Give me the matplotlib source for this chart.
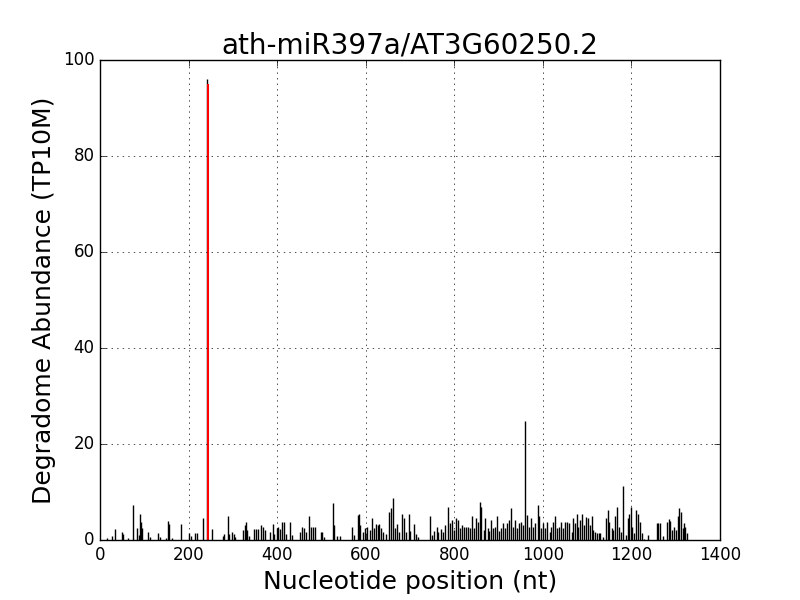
import matplotlib
matplotlib.use("Agg")
import matplotlib.pyplot as plt

# degradome reads per nucleotide position
positions = [15, 26, 34, 50, 52, 64, 74, 84, 87, 90, 92, 94, 109, 113, 132, 135,
             149, 153, 156, 162, 184, 202, 205, 214, 218, 232, 242, 252, 277, 280,
             289, 292, 299, 302, 305, 324, 327, 330, 333, 337, 348, 352, 356,
             363, 367, 372, 384, 390, 394, 400, 403, 406, 412, 416, 420, 430, 434,
             451, 457, 461, 466, 472, 476, 482, 486, 498, 502, 506, 525, 528, 535,
             542, 570, 574, 582, 585, 588, 593, 599, 604, 609, 614, 618, 623, 627,
             630, 634, 639, 645, 652, 656, 662, 665, 670, 675, 683, 686, 691, 697,
             701, 710, 714, 719,
             745, 749, 754, 760, 764, 771, 775, 780, 786, 790, 795, 799, 804, 808,
             813, 817, 822, 826, 831, 835, 840, 844, 849, 853, 857, 861, 866, 870,
             875, 879, 884, 888, 893, 897, 902, 906, 911, 915, 920, 924, 929, 933,
             938, 942, 947, 951, 956, 960, 965, 969, 974, 978, 983, 989, 992, 996,
             1001, 1005, 1010, 1015, 1019, 1024, 1028, 1033, 1037, 1042, 1046, 1051,
             1055, 1060,
             1065, 1069, 1073, 1076, 1080, 1084, 1089, 1093, 1097, 1103, 1106, 1110,
             1114, 1118, 1123, 1127, 1130, 1136, 1143, 1146, 1150, 1155, 1158, 1164,
             1168, 1173, 1176, 1182, 1188, 1193, 1195, 1198, 1201, 1206, 1210, 1215,
             1219, 1224, 1228, 1237, 1257, 1261, 1264, 1271, 1281, 1284, 1287, 1292,
             1296, 1301, 1305, 1308, 1311, 1316, 1319, 1321, 1325]
abundance = [0.5, 0.9, 2.3, 1.7, 1.3, 0.5, 7.3, 2.4, 1.0, 5.5, 3.8, 2.4, 1.6, 0.7, 1.5, 0.7,
             0.5, 4.0, 3.3, 0.5, 3.3, 1.5, 0.9, 1.5, 1.5, 4.5, 96.0, 2.3, 0.9, 1.2,
             4.9, 1.2, 1.6, 1.2, 0.7, 2.1, 3.1, 3.8, 2.1, 0.9, 2.3, 2.3, 2.3,
             3.1, 2.8, 2.1, 1.6, 3.3, 1.2, 2.4, 2.8, 2.2, 3.8, 3.8, 1.2, 3.8, 1.0,
             1.6, 2.8, 2.4, 1.7, 4.9, 2.8, 2.8, 2.8, 1.6, 1.6, 0.7, 7.8, 3.1, 0.9,
             0.9, 2.8, 1.0, 5.2, 5.5, 3.1, 1.6, 2.4, 2.8, 2.1, 4.5, 2.4, 3.3, 3.1,
             3.3, 2.4, 1.6, 1.2, 5.9, 6.6, 8.8, 2.4, 3.3, 1.6, 5.5, 4.5, 1.7, 5.5,
             1.9, 3.3, 1.3, 0.7,
             5.1, 1.0, 1.9, 2.8, 1.7, 2.3, 1.7, 3.1, 6.9, 3.5, 4.2, 2.1, 4.5, 4.2,
             2.4, 3.1, 2.8, 2.8, 2.8, 2.4, 4.9, 2.4, 4.5, 3.8, 8.0, 6.9, 2.1, 4.5,
             2.4, 1.9, 4.2, 2.4, 2.8, 4.9, 1.9, 2.4, 3.5, 2.4, 3.5, 4.2, 6.6, 2.8,
             4.2, 2.4, 3.5, 3.8, 3.1, 24.7, 5.2, 2.8, 4.5, 2.8, 3.5, 7.3, 4.9, 2.4,
             3.5, 2.4, 3.8, 1.7, 2.8, 3.8, 4.9, 2.4, 2.8, 3.8, 2.4, 3.8,
             3.8, 3.5,
             1.7, 4.5, 3.5, 5.5, 2.8, 4.2, 5.5, 3.1, 4.7, 4.5, 3.1, 4.9,
             2.1, 1.7, 1.5, 1.5, 1.5, 0.7, 4.5, 6.2, 3.8, 2.4, 2.1, 4.9,
             6.9, 2.8, 1.7, 11.2, 1.0, 4.5, 5.5, 6.9, 2.8, 1.4, 6.2, 5.5,
             3.8, 1.4, 0.3, 1.0, 3.5, 3.5, 3.5, 0.8, 3.8, 4.3, 4.0, 2.1,
             2.8, 2.1, 4.9, 6.6, 5.9, 2.4, 3.5, 2.8, 1.4]

# miRNA cleavage site
site_pos = 243
site_abundance = 95

plt.style.use('classic')
plt.rcParams['figure.facecolor'] = 'white'
plt.rcParams['savefig.facecolor'] = 'white'

fig = plt.figure(figsize=(8, 6), dpi=100)
ax = fig.add_subplot(1, 1, 1)
ax.vlines(positions, 0, abundance, colors='black', linewidth=1)
ax.vlines([site_pos], 0, [site_abundance], colors='red', linewidth=1.5)
ax.set_xlim(0, 1400)
ax.set_ylim(0, 100)
ax.set_title("ath-miR397a/AT3G60250.2", fontsize=20)
ax.set_xlabel("Nucleotide position (nt)", fontsize=18)
ax.set_ylabel("Degradome Abundance (TP10M)", fontsize=18)
plt.grid(True)
plt.savefig("out.png", dpi=100)
